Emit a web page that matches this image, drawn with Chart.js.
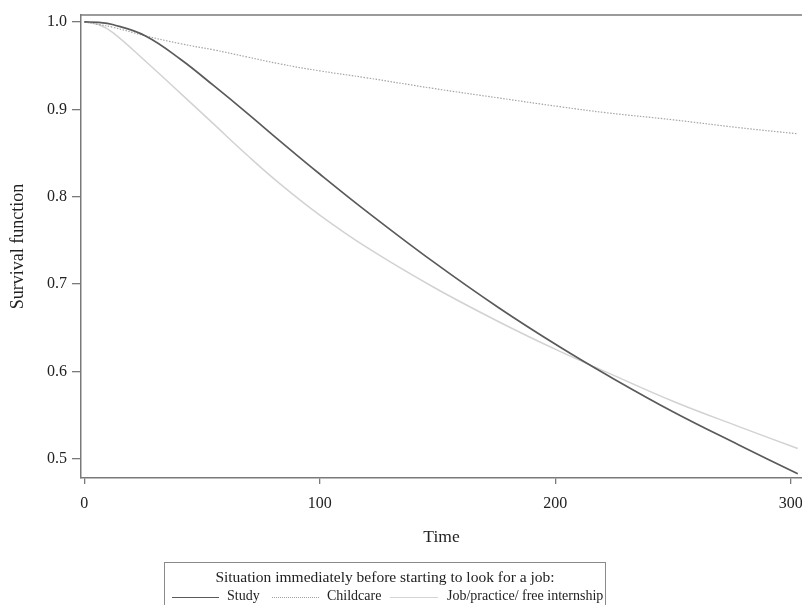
<!DOCTYPE html>
<html>
<head>
<meta charset="utf-8">
<script src="https://cdn.jsdelivr.net/npm/chart.js@4/dist/chart.umd.min.js"></script>
<style>
  html, body { margin: 0; padding: 0; background: #fff; }
  #wrap { position: relative; width: 802px; height: 605px; overflow: hidden; }
  #legend {
    position: absolute; left: 164px; top: 562px; width: 442px; height: 60px;
    border: 1px solid #8a8a8a; box-sizing: border-box;
    font-family: "Liberation Serif", serif; color: #222; white-space: nowrap;
  }
  #legend .title { text-align: center; font-size: 15.5px; margin-top: 5px; line-height: 18px; }
  #legend .row { position: relative; height: 20px; font-size: 14px; }
  #legend .row span { position: absolute; top: 2px; }
  #legend .row i { position: absolute; top: 11px; height: 0; }
</style>
</head>
<body>
<div id="wrap">
  <canvas id="myChart" width="802" height="605"></canvas>
  <div id="legend">
    <div class="title">Situation immediately before starting to look for a job:</div>
    <div class="row">
      <i style="left:7px;width:47px;border-top:1.5px solid #5a5a5a"></i>
      <span style="left:62px">Study</span>
      <i style="left:107px;width:47px;border-top:1px dotted #a0a0a0"></i>
      <span style="left:162px">Childcare</span>
      <i style="left:225px;width:48px;border-top:1px solid #d4d4d4"></i>
      <span style="left:282px">Job/practice/ free internship</span>
    </div>
  </div>
</div>
<script>
var time = [0, 6, 12, 26, 41, 55, 69, 83, 100, 120, 148, 176, 202, 222, 250, 278, 303];
var study = [1.0, 0.9995, 0.997, 0.984, 0.957, 0.927, 0.896, 0.864, 0.826, 0.783, 0.726, 0.673, 0.628, 0.596, 0.554, 0.516, 0.483];
var childcare = [1.0, 0.997, 0.994, 0.984, 0.975, 0.968, 0.960, 0.952, 0.944, 0.936, 0.924, 0.913, 0.903, 0.896, 0.888, 0.879, 0.872];
var job = [1.0, 0.997, 0.988, 0.955, 0.918, 0.883, 0.848, 0.815, 0.779, 0.742, 0.697, 0.657, 0.623, 0.599, 0.566, 0.537, 0.512];

var xTicks = [0, 100, 200, 300];
var yTicks = [0.5, 0.6, 0.7, 0.8, 0.9, 1.0];

var serif = "'Liberation Serif', 'Times New Roman', serif";

function points(vals) {
    return time.map(function (t, i) { return { x: t, y: vals[i] }; });
}

// top frame line of the plot area
var topFrame = {
    id: 'topFrame',
    afterDraw: function (chart) {
        var a = chart.chartArea, c = chart.ctx;
        c.save();
        c.strokeStyle = '#7a7a7a';
        c.lineWidth = 1.5;
        c.beginPath();
        c.moveTo(a.left, a.top);
        c.lineTo(chart.width, a.top);
        c.stroke();
        c.restore();
    }
};

var ctx = document.getElementById('myChart').getContext('2d');

var myChart = new Chart(ctx, {
    type: 'line',
    data: {
        datasets: [{
            label: 'Study',
            data: points(study),
            borderColor: '#5a5a5a',
            borderWidth: 1.7
        }, {
            label: 'Childcare',
            data: points(childcare),
            borderColor: '#a5a5a5',
            borderWidth: 1.2,
            borderDash: [1.5, 1.5]
        }, {
            label: 'Job/practice/ free internship',
            data: points(job),
            borderColor: '#d2d2d2',
            borderWidth: 1.5
        }]
    },
    plugins: [topFrame],
    options: {
        responsive: false,
        animation: false,
        events: [],
        layout: { padding: { top: 15, right: 0, bottom: 57, left: 0 } },
        elements: {
            point: { radius: 0 },
            line: { tension: 0.4, fill: false }
        },
        plugins: { legend: { display: false }, tooltip: { enabled: false } },
        scales: {
            x: {
                type: 'linear',
                min: -1.4,
                max: 304.8,
                afterBuildTicks: function (axis) {
                    axis.ticks = xTicks.map(function (v) { return { value: v }; });
                },
                afterFit: function (axis) {
                    axis.height = 70;
                    // let the last tick label hang over the right edge
                    axis.paddingLeft = 0;
                    axis.paddingRight = 0;
                },
                grid: { display: true, drawOnChartArea: false, drawTicks: true, tickLength: 6, color: '#7a7a7a', lineWidth: 1.3 },
                border: { display: true, color: '#7a7a7a', width: 1.5 },
                ticks: { color: '#222', font: { family: serif, size: 16 }, padding: 10, maxRotation: 0 },
                title: { display: true, text: 'Time', color: '#222', font: { family: serif, size: 17.5 }, padding: { top: 3, bottom: 0 } }
            },
            y: {
                type: 'linear',
                min: 0.4782,
                max: 1.0079,
                afterBuildTicks: function (axis) {
                    axis.ticks = yTicks.map(function (v) { return { value: v }; });
                },
                afterFit: function (axis) { axis.width = 81; },
                grid: { display: true, drawOnChartArea: false, drawTicks: true, tickLength: 9, color: '#7a7a7a', lineWidth: 1.3 },
                border: { display: true, color: '#7a7a7a', width: 1.5 },
                ticks: {
                    color: '#222', font: { family: serif, size: 16 }, padding: 5,
                    callback: function (v) { return v.toFixed(1); }
                },
                title: { display: true, text: 'Survival function', color: '#222', font: { family: serif, size: 18 }, padding: { top: 7, bottom: 0 } }
            }
        }
    }
});
</script>
</body>
</html>
